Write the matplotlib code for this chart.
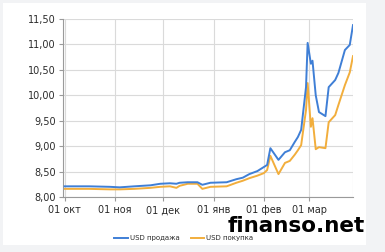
"""USD/UAH rate chart: sell vs buy, Oct 2013 - Mar 2014."""

import matplotlib

matplotlib.use("Agg")
import matplotlib.dates as mdates
import matplotlib.pyplot as plt
import pandas as pd
from matplotlib.patches import Rectangle
from matplotlib.ticker import FixedLocator, FuncFormatter

dates = pd.to_datetime([
    "2013-10-01", "2013-10-16", "2013-10-29", "2013-11-04", "2013-11-13",
    "2013-11-23", "2013-11-29", "2013-12-05", "2013-12-09", "2013-12-11",
    "2013-12-16", "2013-12-22", "2013-12-25", "2013-12-30", "2014-01-09",
    "2014-01-15", "2014-01-19", "2014-01-23", "2014-01-28", "2014-02-01",
    "2014-02-03", "2014-02-05", "2014-02-10", "2014-02-14", "2014-02-17",
    "2014-02-20", "2014-02-22", "2014-02-24", "2014-02-27", "2014-02-28",
    "2014-03-02", "2014-03-03", "2014-03-05", "2014-03-07", "2014-03-11",
    "2014-03-13", "2014-03-17", "2014-03-19", "2014-03-23", "2014-03-26",
    "2014-03-28",
])

usd_sell = [
    8.21, 8.21, 8.20, 8.19, 8.21,
    8.23, 8.26, 8.27, 8.26, 8.28,
    8.29, 8.29, 8.24, 8.28, 8.29,
    8.35, 8.38, 8.45, 8.51, 8.59,
    8.63, 8.96, 8.73, 8.88, 8.92,
    9.08, 9.18, 9.32, 10.16, 11.03,
    10.62, 10.68, 10.00, 9.67, 9.59,
    10.16, 10.30, 10.44, 10.89, 10.99,
    11.38,
]

usd_buy = [
    8.16, 8.16, 8.15, 8.15, 8.16,
    8.18, 8.20, 8.21, 8.18, 8.22,
    8.26, 8.26, 8.16, 8.20, 8.21,
    8.28, 8.32, 8.37, 8.42, 8.47,
    8.53, 8.81, 8.45, 8.67, 8.71,
    8.83, 8.92, 9.02, 9.71, 10.24,
    9.38, 9.55, 8.94, 8.98, 8.96,
    9.47, 9.61, 9.81, 10.20, 10.45,
    10.77,
]

month_ticks = pd.to_datetime([
    "2013-10-01", "2013-11-01", "2013-12-01",
    "2014-01-01", "2014-02-01", "2014-03-01",
])
month_labels = ["01 окт", "01 ноя", "01 дек", "01 янв", "01 фев", "01 мар"]
y_ticks = [8.0, 8.5, 9.0, 9.5, 10.0, 10.5, 11.0, 11.5]

SELL_COLOUR = "#3f7fd6"
BUY_COLOUR = "#f2ae3c"
GRID_COLOUR = "#dadada"
AXIS_COLOUR = "#9a9a9a"
TEXT_COLOUR = "#2b2b2b"

fig = plt.figure(figsize=(3.85, 2.52), dpi=100, facecolor="#f2f3f5")
# white card behind the chart
fig.patches.append(
    Rectangle((3 / 385, 1 - 245 / 252), 363 / 385, 242 / 252,
              transform=fig.transFigure, facecolor="white",
              edgecolor="none", zorder=-5)
)

ax = fig.add_axes([63 / 385, 1 - 197 / 252, 290 / 385, 178 / 252])
ax.set_facecolor("white")

ax.plot(dates, usd_sell, color=SELL_COLOUR, linewidth=1.4,
        label="USD продажа", zorder=3)
ax.plot(dates, usd_buy, color=BUY_COLOUR, linewidth=1.4,
        label="USD покупка", zorder=2)

ax.set_xlim(pd.Timestamp("2013-09-30"), pd.Timestamp("2014-03-28"))
ax.set_ylim(8.0, 11.5)

ax.xaxis.set_major_locator(FixedLocator(mdates.date2num(month_ticks)))
ax.set_xticklabels(month_labels)
ax.yaxis.set_major_locator(FixedLocator(y_ticks))
ax.yaxis.set_major_formatter(FuncFormatter(lambda v, _: f"{v:.2f}".replace(".", ",")))

ax.grid(True, color=GRID_COLOUR, linewidth=0.8)
ax.set_axisbelow(True)
for side in ("top", "right"):
    ax.spines[side].set_visible(False)
for side in ("left", "bottom"):
    ax.spines[side].set_color(AXIS_COLOUR)
    ax.spines[side].set_linewidth(0.8)
ax.axvline(ax.get_xlim()[1], color=GRID_COLOUR, linewidth=0.8, zorder=0)

ax.tick_params(axis="both", colors=AXIS_COLOUR, labelcolor=TEXT_COLOUR,
               labelsize=7, length=3, width=0.8, pad=2)
ax.tick_params(axis="x", pad=3)

fig.legend(loc="center", bbox_to_anchor=(184 / 385, 1 - 238 / 252), ncol=2,
           frameon=False, fontsize=5, handlelength=1.9, columnspacing=1.6,
           handletextpad=0.35, labelcolor=TEXT_COLOUR)

# site watermark
fig.text(228 / 385, 1 - 232 / 252, "finanso.net", fontsize=15.5,
         fontweight="bold", color="black", ha="left", va="baseline")

fig.savefig("out.png", dpi=100, facecolor=fig.get_facecolor())
